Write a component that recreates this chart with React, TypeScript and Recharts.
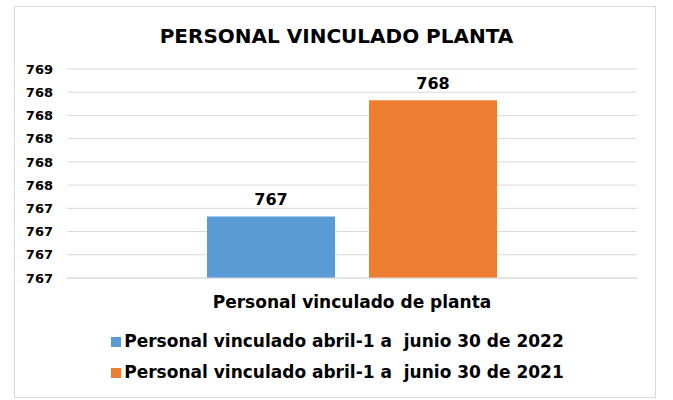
import React from 'react';
import { BarChart, Bar, XAxis, YAxis, CartesianGrid, Legend, LabelList } from 'recharts';

const categories = ['Personal vinculado de planta'];
const series2022 = [767.33];
const series2021 = [768.33];
const seriesNames = [
  'Personal vinculado abril-1 a  junio 30 de 2022',
  'Personal vinculado abril-1 a  junio 30 de 2021',
];
const seriesColors = ['#5B9BD5', '#ED7D31'];
const yTicks = [766.8, 767.0, 767.2, 767.4, 767.6, 767.8, 768.0, 768.2, 768.4, 768.6];
const title = 'PERSONAL VINCULADO PLANTA';

const data = categories.map((c, i) => ({ category: c, v2022: series2022[i], v2021: series2021[i] }));

const FONT = '"DejaVu Sans", Verdana, sans-serif';

const renderLegend = (props: any) => {
  const payload = [...(props.payload || [])].sort(
    (a: any, b: any) => seriesNames.indexOf(a.value) - seriesNames.indexOf(b.value)
  );
  return (
    <div
      style={{
        textAlign: 'center',
        paddingLeft: 38,
        fontFamily: FONT,
        fontWeight: 'bold',
        fontSize: 17,
        color: '#000',
      }}
    >
      <div style={{ display: 'inline-block', textAlign: 'left' }}>
        {payload.map((entry: any, idx: number) => (
          <div
            key={idx}
            style={{
              display: 'flex',
              alignItems: 'center',
              height: 25,
              lineHeight: '25px',
              marginTop: idx === 0 ? 0 : 6,
            }}
          >
            <span style={{ width: 10, height: 10, background: entry.color, display: 'inline-block', marginRight: 3 }} />
            <span style={{ whiteSpace: 'pre' }}>{entry.value}</span>
          </div>
        ))}
      </div>
    </div>
  );
};

export default function App() {
  return (
    <div style={{ position: 'absolute', left: 0, top: 0, width: 673, height: 400, background: '#fff' }}>
      <div
        style={{
          position: 'absolute',
          left: 14,
          top: 6,
          width: 640,
          height: 390,
          border: '1px solid #D9D9D9',
        }}
      />
      <div
        style={{
          position: 'absolute',
          left: 0,
          top: 24,
          width: 673,
          textAlign: 'center',
          fontFamily: FONT,
          fontWeight: 'bold',
          fontSize: 20,
          lineHeight: '24px',
          color: '#000',
        }}
      >
        {title}
      </div>
      <div style={{ position: 'absolute', left: 0, top: 0 }}>
        <BarChart
          width={673}
          height={400}
          data={data}
          margin={{ top: 69, right: 36, left: 0, bottom: 15 }}
          barGap={34}
          barSize={128}
        >
          <CartesianGrid vertical={false} stroke="#D9D9D9" strokeWidth={1} />
          <XAxis
            dataKey="category"
            height={51}
            tickLine={false}
            axisLine={{ stroke: '#D9D9D9' }}
            tickMargin={12}
            tick={{ fill: '#000', fontFamily: FONT, fontWeight: 'bold', fontSize: 17 }}
          />
          <YAxis
            type="number"
            width={67}
            domain={[yTicks[0], yTicks[yTicks.length - 1]]}
            ticks={yTicks}
            allowDataOverflow
            interval={0}
            axisLine={false}
            tickLine={false}
            tickMargin={8}
            tickFormatter={(v: number) => String(Math.round(v))}
            tick={{ fill: '#000', fontFamily: FONT, fontWeight: 'bold', fontSize: 13 }}
          />
          <Legend verticalAlign="bottom" content={renderLegend} />
          <Bar dataKey="v2022" name={seriesNames[0]} fill={seriesColors[0]} isAnimationActive={false}>
            <LabelList
              dataKey="v2022"
              position="top"
              offset={11}
              formatter={(v: any) => String(Math.round(Number(v)))}
              style={{ fill: '#000', fontFamily: FONT, fontWeight: 'bold', fontSize: 16 }}
            />
          </Bar>
          <Bar dataKey="v2021" name={seriesNames[1]} fill={seriesColors[1]} isAnimationActive={false}>
            <LabelList
              dataKey="v2021"
              position="top"
              offset={11}
              formatter={(v: any) => String(Math.round(Number(v)))}
              style={{ fill: '#000', fontFamily: FONT, fontWeight: 'bold', fontSize: 16 }}
            />
          </Bar>
        </BarChart>
      </div>
    </div>
  );
}
